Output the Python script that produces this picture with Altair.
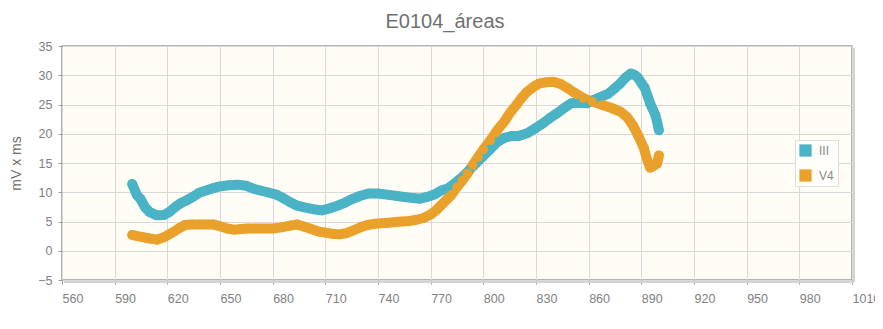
import altair as alt
import pandas as pd

# ---- data ----
iii_s = [600.0, 602.7, 604.6, 607.4, 610, 614, 618, 621, 625, 628, 631, 635, 638, 642, 646, 650, 655,
         660, 665, 669, 673, 677, 682, 686, 690, 694, 698, 703, 708, 713, 717, 721, 725, 730, 735, 740,
         745, 750, 755, 760, 764, 768, 772, 776, 780, 784, 788, 792, 796, 800, 804, 808, 812, 816, 820,
         825, 830, 834, 838, 842, 846, 850, 855, 859, 863, 867, 871, 875, 878, 881, 884, 886, 888, 890,
         892, 893.5, 895, 896.5, 898, 899, 900]
iii_v = [11.4, 9.5, 8.9, 7.4, 6.6, 6.05, 6.1, 6.6, 7.6, 8.2, 8.6, 9.3, 9.9, 10.3, 10.7, 11.0, 11.2,
         11.3, 11.1, 10.6, 10.3, 10.0, 9.6, 9.0, 8.3, 7.7, 7.4, 7.1, 6.9, 7.3, 7.7, 8.2, 8.8, 9.4, 9.8, 9.8,
         9.6, 9.4, 9.2, 9.0, 8.9, 9.2, 9.6, 10.3, 10.7, 11.6, 12.6, 13.8, 15.0, 16.2, 17.4, 18.6, 19.3, 19.6, 19.6,
         20.1, 21.0, 21.8, 22.7, 23.5, 24.4, 25.2, 25.3, 25.2, 25.8, 26.3, 26.8, 27.8, 28.6, 29.6, 30.3, 30.1,
         29.6, 28.7, 27.8, 26.5, 25.2, 24.2, 23.2, 22.0, 20.6]

v4_s = [600, 603, 606.5, 610, 614, 618, 621, 624, 627, 630, 634, 638, 642, 646, 650, 654, 658, 662, 666,
        670, 675, 680, 685, 690, 694, 698, 702, 706, 710, 714, 718, 722, 726, 730, 734, 738, 742, 746, 750,
        754, 758, 762, 766, 770, 773, 776, 779, 782, 785, 788, 791, 794, 797, 800, 804, 808, 812, 815, 819,
        822, 825, 829, 832, 836, 840, 844, 848, 852, 857, 862, 868, 873, 878, 882, 885.5, 888, 890, 891.5,
        893, 895, 897, 899, 900]
v4_v = [2.7, 2.5, 2.3, 2.1, 1.9, 2.3, 2.8, 3.3, 3.9, 4.4, 4.5, 4.5, 4.5, 4.5, 4.2, 3.8, 3.6, 3.7, 3.8,
        3.8, 3.8, 3.8, 4.0, 4.3, 4.5, 4.1, 3.7, 3.3, 3.1, 2.9, 2.8, 3.0, 3.5, 4.0, 4.4, 4.6, 4.7, 4.8, 4.9,
        5.0, 5.1, 5.3, 5.6, 6.2, 6.9, 7.8, 8.7, 9.6, 10.9, 12.0, 13.2, 14.7, 16.0, 17.3, 18.9, 20.6, 22.1, 23.5, 25.0,
        26.2, 27.2, 28.1, 28.6, 28.8, 28.9, 28.5, 27.8, 27.0, 26.1, 25.5, 24.9, 24.4, 23.8, 22.8, 21.3, 19.8, 18.5, 17.5,
        15.8, 14.2, 14.5, 14.9, 16.3]

series_names = ["III", "V4"]
series_colors = ["#4ab3c6", "#eaa12b"]
x_ticks = list(range(560, 1011, 30))
y_ticks = list(range(-5, 36, 5))

df = pd.concat([
    pd.DataFrame({"s": iii_s, "v": iii_v, "serie": "III", "o": range(len(iii_s))}),
    pd.DataFrame({"s": v4_s, "v": v4_v, "serie": "V4", "o": range(len(v4_s))}),
])

W, H = 790, 234
FONT = "Liberation Sans"

x = alt.X("s:Q", title="s",
          scale=alt.Scale(domain=[560, 1010], nice=False, zero=False),
          axis=alt.Axis(values=x_ticks, format="d", labelAlign="left", tickSize=4, labelPadding=8,
                        titlePadding=13, domain=False, tickColor="#999"))
y = alt.Y("v:Q", title="mV x ms",
          scale=alt.Scale(domain=[-5, 35], nice=False, zero=False),
          axis=alt.Axis(values=y_ticks, format="d", tickSize=4, labelPadding=6, titlePadding=14,
                        domain=False, tickColor="#999"))
color = alt.Color("serie:N", scale=alt.Scale(domain=series_names, range=series_colors),
                  legend=alt.Legend(title=None, orient="none", legendX=733, legendY=94,
                                    symbolType="square", symbolSize=150, symbolStrokeWidth=0,
                                    symbolOpacity=1, rowPadding=12, padding=4,
                                    fillColor="#fffefb", strokeColor="#dddddd",
                                    labelFontSize=12, labelColor="#888", labelFont=FONT,
                                    labelOffset=7))

base = alt.Chart(df)
lines = base.mark_line(strokeWidth=10, strokeCap="round", strokeJoin="round").encode(
    x=x, y=y, color=color, order="o:Q", detail="serie:N")
pts = base.mark_circle(size=90, opacity=1).encode(x=x, y=y, color=color)

shadow_r = alt.Chart(df).mark_rule(color="#d3d3d3", strokeWidth=2).encode(
    x=alt.value(W + 2), y=alt.value(2), y2=alt.value(H + 2))
shadow_b = alt.Chart(df).mark_rule(color="#d3d3d3", strokeWidth=2).encode(
    x=alt.value(2), x2=alt.value(W + 2), y=alt.value(H + 2))

chart = alt.layer(shadow_r, shadow_b, lines, pts).properties(
    width=W, height=H,
    title=alt.TitleParams("E0104_áreas", fontSize=20, font=FONT, color="#707070",
                          fontWeight="normal", anchor="middle", dx=-12, offset=8),
    autosize=alt.AutoSizeParams(type="none"),
    padding={"left": 54, "top": 38, "right": 23, "bottom": 40},
).configure(
    background="white"
).configure_view(
    fill="#fffdf5", stroke="#9a9a9a", strokeWidth=1.5
).configure_axis(
    gridColor="#d9d9d9", gridWidth=1, labelFont=FONT, labelFontSize=12.5, labelColor="#808080",
    titleFont=FONT, titleFontSize=14, titleColor="#707070", titleFontWeight="normal"
)

chart.save("out.html", embed_options={"renderer": "svg", "actions": False})
